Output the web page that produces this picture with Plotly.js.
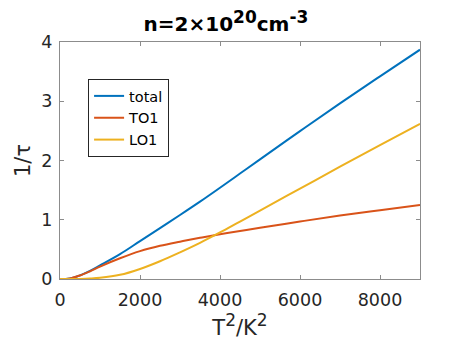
<!DOCTYPE html>
<html>
<head>
<meta charset="utf-8">
<script src="https://cdn.plot.ly/plotly-3.0.1.min.js"></script>
<style>
  body { margin: 0; background: #fff; }
  #viz { width: 464px; height: 348px; }
</style>
</head>
<body>
<div id="viz"></div>
<script>
// T^2 (K^2) sample points
var T2 = [0, 250, 500, 750, 1000, 1500, 2000, 2500, 3000, 3500, 4000, 4500, 5000, 6000, 7000, 8000, 9000];

var totalRate = [0, 0.01, 0.062, 0.138, 0.23, 0.42, 0.64, 0.86, 1.08, 1.305, 1.54, 1.78, 2.02, 2.495, 2.965, 3.42, 3.87];
var to1Rate   = [0, 0.01, 0.06, 0.13, 0.21, 0.35, 0.47, 0.56, 0.63, 0.695, 0.755, 0.81, 0.865, 0.97, 1.07, 1.16, 1.25];
var lo1Rate   = [0, 0, 0.002, 0.008, 0.02, 0.07, 0.17, 0.30, 0.45, 0.61, 0.785, 0.97, 1.155, 1.525, 1.895, 2.26, 2.62];

var xTicks = [0, 2000, 4000, 6000, 8000];
var yTicks = [0, 1, 2, 3, 4];

var font = 'DejaVu Sans, Liberation Sans, sans-serif';

var total = {
  x: T2, y: totalRate, mode: 'lines', name: 'total',
  line: { color: '#0072BD', width: 2, shape: 'spline' }
};
var to1 = {
  x: T2, y: to1Rate, mode: 'lines', name: 'TO1',
  line: { color: '#D95319', width: 2, shape: 'spline' }
};
var lo1 = {
  x: T2, y: lo1Rate, mode: 'lines', name: 'LO1',
  line: { color: '#EDB120', width: 2, shape: 'spline' }
};

var data = [total, to1, lo1];

var axisStyle = {
  showgrid: false, zeroline: false,
  showline: true, linecolor: '#8c8c8c', linewidth: 1, mirror: 'ticks',
  ticks: 'inside', ticklen: 4, tickcolor: '#8c8c8c',
  tickfont: { family: font, size: 17.5, color: '#262626' }
};

// bigger superscripts, like MATLAB's tex interpreter
function sup(s, px) {
  return '<sup><span style="font-size:' + px + 'px">' + s + '</span></sup>';
}

var layout = {
  width: 464, height: 348,
  margin: { l: 60, r: 44, t: 42, b: 69 },
  paper_bgcolor: '#fff', plot_bgcolor: '#fff',
  font: { family: font, color: '#262626' },
  title: {
    text: '<b>n=2\u00d710' + sup('20', 17) + 'cm' + sup('-3', 17) + '</b>',
    font: { family: font, size: 20, color: '#000' },
    xref: 'paper', x: 0.461, xanchor: 'center',
    yref: 'paper', y: 1, yanchor: 'bottom', pad: { b: 11 }
  },
  xaxis: Object.assign({}, axisStyle, {
    range: [0, 9000], tickmode: 'array', tickvals: xTicks, ticklabelstandoff: 5,
    title: { text: 'T' + sup('2', 17) + '/K' + sup('2', 17), font: { family: font, size: 21, color: '#262626' }, standoff: 10 }
  }),
  yaxis: Object.assign({}, axisStyle, {
    range: [0, 4], tickmode: 'array', tickvals: yTicks, ticklabelstandoff: 3,
    title: { text: '1/\u03c4', font: { family: font, size: 21, color: '#262626' }, standoff: 5 }
  }),
  showlegend: true,
  legend: {
    x: 0.078, y: 0.844, xanchor: 'left', yanchor: 'top',
    bgcolor: '#fff', bordercolor: '#262626', borderwidth: 1,
    font: { family: font, size: 14.5, color: '#000' },
    itemwidth: 30, tracegroupgap: 0
  }
};

Plotly.newPlot('viz', data, layout, { displayModeBar: false, staticPlot: true });
</script>
</body>
</html>
